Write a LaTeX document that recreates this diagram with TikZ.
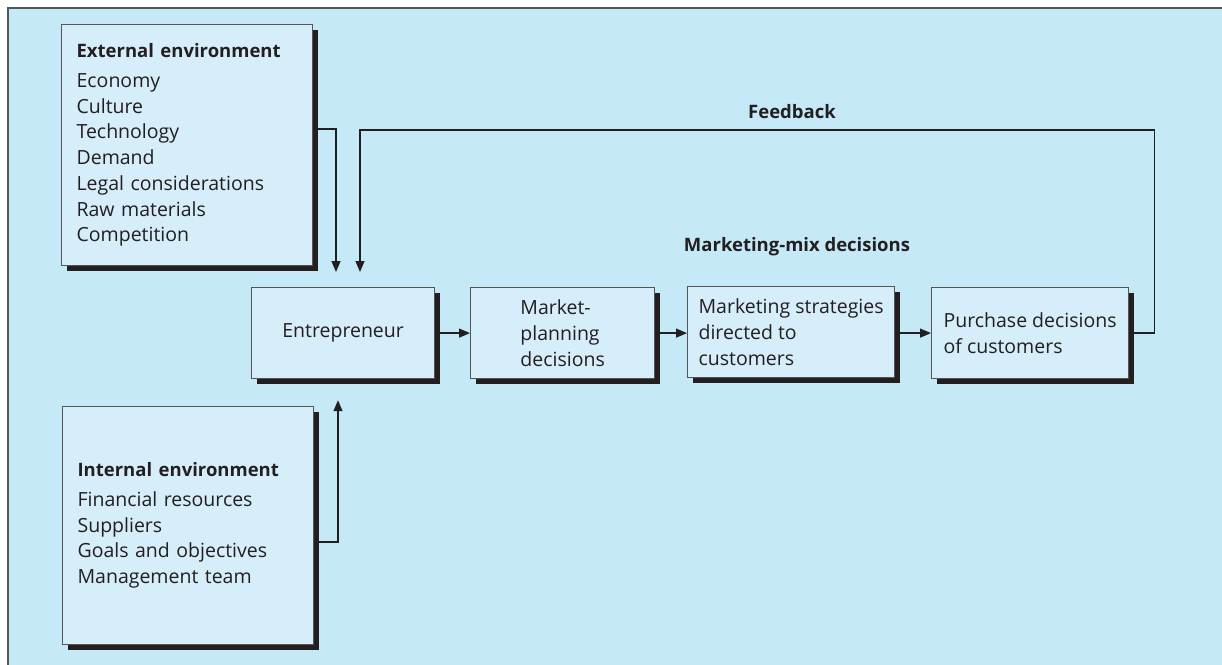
\documentclass[tikz,border=0pt]{standalone}
\usepackage{fontspec}
\setmainfont{Open Sans}
\usetikzlibrary{arrows.meta, positioning, shadows}
\definecolor{mybg}{RGB}{198,233,248}
\definecolor{myfill}{RGB}{214,237,250}
\definecolor{myline}{RGB}{85,85,85}
\definecolor{mytext}{RGB}{35,31,32}

\begin{document}
\begin{tikzpicture}[x=1pt, y=-1pt,
    every node/.style={text=mytext, font=\fontsize{19.5}{25.7}\selectfont},
    shadowbox/.style={draw=myline, line width=1.2pt, fill=myfill, anchor=north west,
        drop shadow={fill=mytext, opacity=1, shadow xshift=5pt, shadow yshift=-5pt}},
    envbox/.style={shadowbox, minimum width=251pt, text width=221pt, align=left},
    stepbox/.style={shadowbox, minimum height=91pt, align=left, inner sep=0pt},
    flow/.style={line width=1.3pt, draw=mytext, -{Triangle[length=11pt, width=9pt]}},
    heading/.style={font=\fontsize{18.5}{22}\selectfont\bfseries}]
    \useasboundingbox (0,0) rectangle (1222,664);

    % background frame
    \fill[mybg] (7.5,7.5) rectangle (1240,680);
    \draw[myline, line width=2pt] (1240,7.5) -- (7.5,7.5) -- (7.5,680);

    % environment boxes
    \node[envbox, minimum height=241pt] (ext) at (61,24) {{\fontsize{18.5}{22}\selectfont\bfseries External environment}\\[4pt]
        Economy\\ Culture\\ Technology\\ Demand\\ Legal considerations\\ Raw materials\\ Competition};
    \node[envbox, minimum height=238pt] (int) at (62,406) {{\fontsize{18.5}{22}\selectfont\bfseries Internal environment}\\[4pt]
        Financial resources\\ Suppliers\\ Goals and objectives\\ Management team};

    % decision chain
    \node[stepbox, minimum width=183pt] (ent) at (251,287) {Entrepreneur};
    \node[stepbox, minimum width=184pt] (mp) at (470,287) {Market-\\ planning\\ decisions};
    \node[stepbox, minimum width=207pt] (ms) at (687,286) {Marketing strategies\\ directed to\\ customers};
    \node[stepbox, minimum width=197pt] (pur) at (931,287) {Purchase decisions\\ of customers};

    % labels
    \node[heading] (fb) at (792,112) {Feedback};
    \node[heading] (mix) at (797,247) {Marketing-mix decisions};
    \coordinate (fbtop) at (360,130);

    % arrows
    \draw[flow] ([shift={(5,105)}]ext.north east) -| ([xshift=85pt, yshift=15pt]ent.north west);
    \draw[flow] ([shift={(5,136)}]int.north east) -| ([xshift=87pt, yshift=-21pt]ent.south west);
    \draw[flow] ([xshift=5pt]ent.east) -- (mp.west);
    \draw[flow] ([xshift=5pt]mp.east) -- (mp.east -| ms.west);
    \draw[flow] ([xshift=5pt]ms.east |- pur.east) -- (pur.west);
    \draw[flow] ([xshift=5pt]pur.east) -- ++(20,0) |- (fbtop)
        -- ([xshift=109pt, yshift=15pt]ent.north west);
\end{tikzpicture}
\end{document}
